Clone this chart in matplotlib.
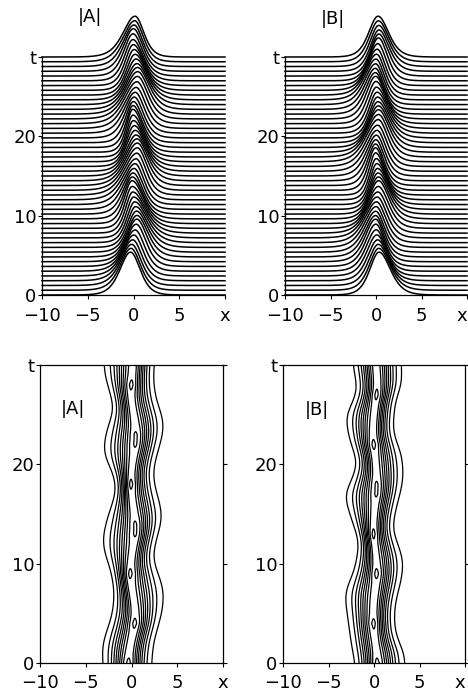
import numpy as np
import matplotlib
matplotlib.use("Agg")
import matplotlib.pyplot as plt

plt.rcParams['font.family'] = ['DejaVu Sans']

# ---- data (knots every 1 time unit) ----
t_knots = np.arange(0, 31, 1.0)

# |A| : core (peak) position, outer (10%) contour edges, peak amplitude
A_core = [-0.35, -0.25, -0.05, 0.2, 0.4, 0.4, 0.25, 0.05, -0.15, -0.2, -0.1,
          0.1, 0.3, 0.45, 0.45, 0.3, 0.1, -0.05, -0.1, -0.05, 0.1,
          0.3, 0.45, 0.5, 0.4, 0.2, 0.0, -0.1, -0.05, 0.1, 0.2]
A_left = [-3.1, -3.2, -3.1, -2.8, -2.4, -2.1, -1.95, -1.9, -2.0, -2.2, -2.5,
          -2.9, -3.1, -3.05, -2.8, -2.5, -2.1, -1.8, -1.75, -2.0, -2.5,
          -2.95, -3.0, -2.8, -2.5, -2.1, -2.0, -2.3, -2.6, -2.9, -3.0]
A_right = [2.2, 2.3, 2.4, 2.7, 3.0, 3.3, 3.45, 3.5, 3.3, 2.9, 2.5,
           2.4, 2.6, 2.9, 3.2, 3.3, 3.1, 2.8, 2.5, 2.4, 2.5,
           2.8, 3.1, 3.4, 3.5, 3.3, 2.9, 2.6, 2.45, 2.4, 2.5]
A_amp = [1.02, 0.98, 0.97, 0.98, 1.02, 0.98, 0.97, 0.97, 0.98, 1.02, 0.98,
         0.97, 0.975, 1.01, 1.01, 0.975, 0.97, 0.98, 1.02, 0.98, 0.97,
         0.975, 1.01, 1.01, 0.975, 0.97, 0.97, 0.98, 1.02, 0.98, 0.97]

# |B|
B_core = [0.35, 0.3, 0.15, 0.0, -0.05, -0.05, 0.0, 0.1, 0.25, 0.3, 0.25,
          0.15, 0.0, -0.1, -0.05, 0.05, 0.15, 0.3, 0.3, 0.25, 0.15,
          0.05, -0.05, -0.1, -0.05, 0.05, 0.15, 0.3, 0.35, 0.3, 0.2]
B_left = [-2.1, -2.3, -2.5, -2.65, -2.8, -2.95, -3.1, -3.15, -2.8, -2.3, -2.0,
          -1.8, -1.7, -1.9, -2.3, -2.65, -3.0, -3.15, -2.7, -2.2, -1.9,
          -2.1, -2.5, -2.8, -3.0, -3.0, -2.5, -2.0, -1.9, -2.1, -2.3]
B_right = [3.4, 3.3, 2.8, 2.4, 2.25, 2.25, 2.35, 2.6, 2.9, 3.1, 3.2,
           3.0, 2.6, 2.2, 2.1, 2.3, 2.55, 2.85, 3.1, 3.2, 3.15,
           3.0, 2.6, 2.2, 2.1, 2.2, 2.3, 2.6, 3.0, 3.05, 3.0]
B_amp = [1.02, 0.98, 0.97, 0.985, 1.02, 0.975, 0.97, 0.97, 0.98, 1.02, 0.98,
         0.97, 0.98, 1.02, 0.98, 0.97, 0.975, 1.01, 1.01, 0.975, 0.97,
         0.98, 1.02, 0.98, 0.97, 0.97, 0.98, 1.02, 0.985, 0.975, 0.97]

contour_levels = [0.1, 0.2, 0.3, 0.4, 0.5, 0.6, 0.7, 0.8, 0.9, 1.0]
n_lines = 51                 # waterfall profiles from t=0 to t=30
x_ticks = [-10, -5, 0, 5, 10]
x_ticklabels = ['\u221210', '\u22125', '0', '5', 'x']
t_ticks = [0, 10, 20, 30]
t_ticklabels = ['0', '10', '20', 't']

OUTER = 0.1


def smooth_interp(t, knots_val, sigma=0.6):
    # evaluate on a fine grid, lightly smooth, then sample at t
    tf = np.linspace(-3, 33, 3601)
    v = np.interp(tf, t_knots, knots_val)
    dt = tf[1] - tf[0]
    k = np.arange(-4 * sigma, 4 * sigma + dt, dt)
    g = np.exp(-0.5 * (k / sigma) ** 2)
    g /= g.sum()
    vs = np.convolve(v, g, mode='same')
    return np.interp(t, tf, vs)


def field(x, t, core, left, right, amp):
    c = smooth_interp(t, core)
    l = smooth_interp(t, left)
    r = smooth_interp(t, right)
    a = np.interp(t, t_knots, amp)
    k = np.arccosh(np.sqrt(a / OUTER))
    wl = (c - l) / k
    wr = (r - c) / k
    X = x[None, :]
    C = c[:, None]
    W = np.where(X < C, wl[:, None], wr[:, None])
    return a[:, None] / np.cosh((X - C) / W) ** 2


x = np.linspace(-10, 10, 801)
t_lines = np.linspace(0, 30, n_lines)
t_fine = np.linspace(0, 30, 601)

fig = plt.figure(figsize=(4.68, 6.98), dpi=100)

W_px, H_px = 468, 698


def axrect(l, r, top, bot):
    return [l / W_px, 1 - bot / H_px, (r - l) / W_px, (bot - top) / H_px]


FS = 13
scale = 5.3


def style(ax, box, xpad):
    ax.set_xlim(-10, 10)
    ax.set_ylim(0, 30)
    ax.set_xticks(x_ticks)
    ax.set_xticklabels(x_ticklabels)
    ax.set_yticks(t_ticks)
    ax.set_yticklabels(t_ticklabels)
    ax.tick_params(labelsize=FS, direction='out', length=3, width=0.8, pad=1)
    ax.tick_params(axis='x', pad=xpad)
    for s in ax.spines.values():
        s.set_linewidth(0.9)
    if not box:
        ax.spines['top'].set_visible(False)
        ax.spines['right'].set_visible(False)
    else:
        ax.tick_params(axis='y', right=True)


panels = [
    ("|A|", A_core, A_left, A_right, A_amp, axrect(42, 225, 57, 295), axrect(40, 223, 365, 663), (90, 17), (-6.4, 25.6), False),
    ("|B|", B_core, B_left, B_right, B_amp, axrect(285, 467, 57, 295), axrect(283, 465, 365, 663), (333, 19), (-6.3, 25.5), True),
]

for name, core, left, right, amp, r_top, r_bot, title_px, lab_pos, edge in panels:
    # waterfall
    ax = fig.add_axes(r_top)
    prof = field(x, t_lines, core, left, right, amp)
    for i in range(n_lines - 1, -1, -1):
        t0 = t_lines[i]
        y = t0 + scale * prof[i]
        z = 10 + (n_lines - i) * 2
        ax.fill_between(x, t0, y, color='white', zorder=z, clip_on=False, linewidth=0)
        ax.plot(x, y, color='black', lw=1.1, zorder=z + 1, clip_on=False)
    style(ax, box=False, xpad=6)
    for s in ax.spines.values():
        s.set_zorder(200)
    fig.text(title_px[0] / W_px, 1 - title_px[1] / H_px, name, fontsize=FS,
             ha='center', va='center')

    # contour
    ax2 = fig.add_axes(r_bot)
    Z = field(x, t_fine, core, left, right, amp)
    ax2.contour(x, t_fine, Z, levels=contour_levels, colors='black', linewidths=0.9)
    style(ax2, box=True, xpad=5)
    ax2.text(lab_pos[0], lab_pos[1], name, fontsize=FS, ha='center', va='center')

    if edge:
        for a_ in (ax, ax2):
            a_.get_xticklabels()[-1].set_horizontalalignment('right')

fig.savefig('out.png', dpi=100)
